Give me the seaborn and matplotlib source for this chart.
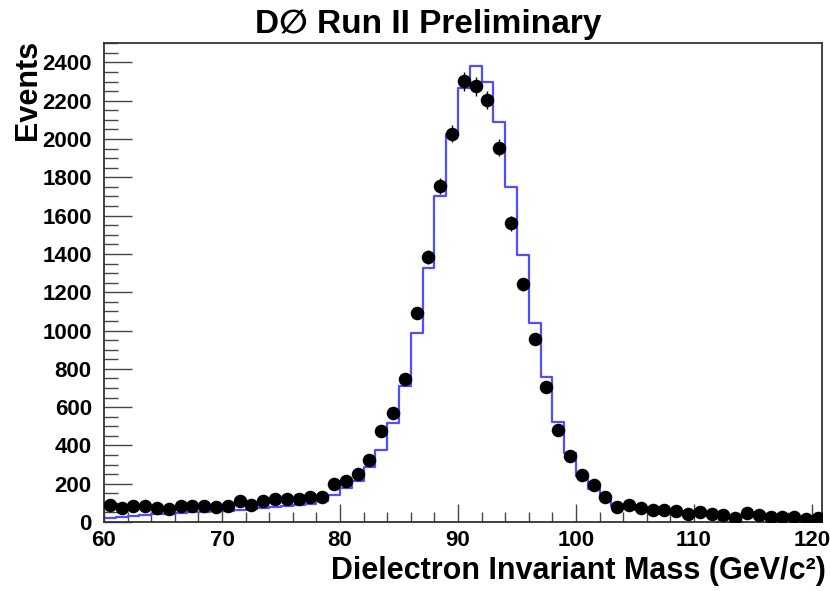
import numpy as np
import pandas as pd
import matplotlib
matplotlib.use("Agg")
import matplotlib.pyplot as plt
import seaborn as sns
from matplotlib.ticker import MultipleLocator

# ---- data ----
bin_edges = list(range(60, 122))  # 1 GeV bins, 60..121
data_counts = [89, 75, 83, 83, 71, 66, 85, 83, 83, 80,
               83, 108, 89, 111, 121, 120, 118, 132, 129, 197,
               214, 250, 323, 476, 570, 747, 1091, 1383, 1756, 2027,
               2301, 2275, 2204, 1954, 1561, 1241, 954, 706, 483, 344,
               243, 193, 129, 80, 89, 75, 63, 63, 57, 42,
               51, 40, 36, 22, 45, 36, 25, 25, 28, 14, 19]
mc_counts = [22, 27, 32, 37, 40, 44, 47, 50, 54, 57,
             60, 64, 68, 72, 77, 82, 88, 96, 108, 140,
             176, 215, 288, 375, 518, 711, 989, 1328, 1700, 2027,
             2267, 2379, 2296, 2087, 1752, 1392, 1039, 758, 523, 358,
             240, 170, 118, 85, 72, 62, 55, 50, 45, 40,
             37, 34, 31, 28, 26, 24, 22, 20, 19, 18, 17]
title = "D\u2205 Run II Preliminary"
xlabel = "Dielectron Invariant Mass (GeV/c\u00b2)"
ylabel = "Events"

centers = [e + 0.5 for e in bin_edges[:-1]]
df_data = pd.DataFrame({"mass": centers, "events": data_counts})
df_mc = pd.DataFrame({"mass": centers, "events": mc_counts})

sns.set_style("white")
plt.rcParams["font.family"] = ["Liberation Sans", "DejaVu Sans"]
plt.rcParams["font.weight"] = "bold"
plt.rcParams["text.color"] = "black"
plt.rcParams["xtick.color"] = "#444444"
plt.rcParams["ytick.color"] = "#444444"
plt.rcParams["xtick.labelcolor"] = "black"
plt.rcParams["ytick.labelcolor"] = "black"

fig = plt.figure(figsize=(8.30, 5.91), dpi=100)
ax = fig.add_axes([104/830, 1 - 522/591, (822 - 104)/830, (522 - 43.3)/591])

sns.histplot(data=df_mc, x="mass", weights="events", bins=bin_edges,
             element="step", fill=False, color="#4f4fff", linewidth=1.6, ax=ax)

ax.errorbar(df_data["mass"], df_data["events"], yerr=np.sqrt(df_data["events"]),
            fmt="none", ecolor="black", elinewidth=1.0, zorder=3)
sns.scatterplot(data=df_data, x="mass", y="events", color="black", s=95,
                edgecolor="black", linewidth=0, zorder=4, ax=ax)

ax.set_xlim(60, 120.85)
ax.set_ylim(0, 2500)
ax.set_yticks([t for t in range(0, 2401, 200)])
ax.set_xticks([60, 70, 80, 90, 100, 110, 120])
ax.xaxis.set_minor_locator(MultipleLocator(2))
ax.yaxis.set_minor_locator(MultipleLocator(50))
ax.tick_params(axis="both", which="both", direction="in", top=False, right=False,
               bottom=True, left=True, color="#444444", width=1.0)
ax.tick_params(axis="x", which="major", length=13, pad=5.5, labelsize=16)
ax.tick_params(axis="x", which="minor", length=7)
ax.tick_params(axis="y", which="major", length=20, pad=8.8, labelsize=16)
ax.tick_params(axis="y", which="minor", length=10)
for lab in ax.get_xticklabels() + ax.get_yticklabels():
    lab.set_fontweight("bold")
for sp in ax.spines.values():
    sp.set_color("#333333")
    sp.set_linewidth(1.3)
ax.set_xlabel("")
ax.set_ylabel("")

fig.text(428/830, 1 - 24/591, title, ha="center", va="center",
         fontsize=24, fontweight="bold")
fig.text(826/830, 1 - 556/591, xlabel, ha="right", va="top",
         fontsize=22, fontweight="bold")
fig.text(28/830, 1 - 40/591, ylabel, ha="center", va="top", rotation=90,
         fontsize=22, fontweight="bold")

fig.savefig("out.png", dpi=100)
